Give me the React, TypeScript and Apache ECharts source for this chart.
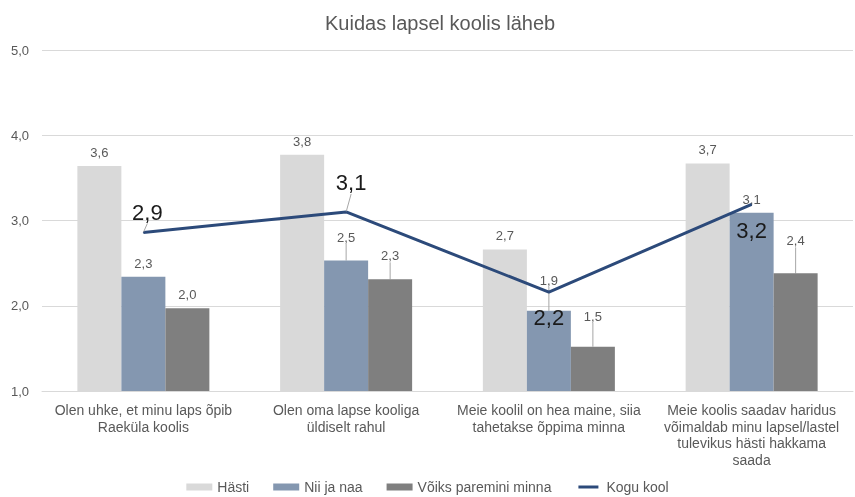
import React, { useEffect, useRef } from "react";
import * as echarts from "echarts";

const titleText = "Kuidas lapsel koolis läheb";
const categories = [
  "Olen uhke, et minu laps õpib\nRaeküla koolis",
  "Olen oma lapse kooliga\nüldiselt rahul",
  "Meie koolil on hea maine, siia\ntahetakse õppima minna",
  "Meie koolis saadav haridus\nvõimaldab minu lapsel/lastel\ntulevikus hästi hakkama\nsaada",
];
const seriesNames = ["Hästi", "Nii ja naa", "Võiks paremini minna", "Kogu kool"];
const hasti = [3.64, 3.77, 2.66, 3.67];
const niiJaNaa = [2.34, 2.53, 1.94, 3.09];
const voiks = [1.97, 2.31, 1.52, 2.38];
const koguKool = [2.86, 3.1, 2.16, 3.19];
const yTicks = [1, 2, 3, 4, 5];

// label nudges (styling only)
const barNudge = [
  [0, 0, 0, 0],
  [0, -10, -17, 0],
  [0, -10, -17, -19],
];
const lineNudge = [
  [4, -20],
  [5, -29],
  [0, 25],
  [0, 26],
];
const lineGuide = [true, true, false, false];

const FONT = "'Liberation Sans', Arial, sans-serif";
const GREY_TEXT = "#595959";
const colors = ["#D9D9D9", "#8497B0", "#7F7F7F", "#2C4A7A"];
const lineLegendIcon = "path://M0,0M26,7M3,2H23V5H3Z";

const fmt = (v: number) => v.toFixed(1).replace(".", ",");

export default function App() {
  const ref = useRef<HTMLDivElement>(null);
  useEffect(() => {
    if (!ref.current) return;
    const chart = echarts.init(ref.current, null, { renderer: "svg" });
    const barData = [hasti, niiJaNaa, voiks];
    const barSeries = barData.map((arr, si) => ({
      name: seriesNames[si],
      type: "bar",
      barWidth: 44,
      barGap: "0%",
      itemStyle: { color: colors[si] },
      data: arr.map((v, i) => ({
        value: v,
        labelLine: { show: barNudge[si][i] !== 0 },
      })),
      label: {
        show: true,
        position: "top",
        distance: 7,
        color: GREY_TEXT,
        fontSize: 13,
        fontFamily: FONT,
        formatter: (p: any) => fmt(p.value),
      },
      labelLine: { show: false, lineStyle: { color: "#A6A6A6", width: 1 } },
      labelLayout: (p: any) => ({ dy: barNudge[si][p.dataIndex] }),
      z: 2,
    }));
    const lineSeries = {
      name: seriesNames[3],
      type: "line",
      data: koguKool.map((v, i) => ({
        value: v,
        labelLine: { show: lineGuide[i] },
      })),
      symbol: "circle",
      symbolSize: 1,
      showSymbol: true,
      itemStyle: { color: colors[3] },
      lineStyle: { color: colors[3], width: 3 },
      label: {
        show: true,
        position: "inside",
        color: "#1A1A1A",
        fontSize: 22,
        fontFamily: FONT,
        formatter: (p: any) => fmt(p.value),
      },
      labelLine: { show: false, lineStyle: { color: "#A6A6A6", width: 1 } },
      labelLayout: (p: any) => ({
        dx: lineNudge[p.dataIndex][0],
        dy: lineNudge[p.dataIndex][1],
      }),
      z: 5,
    };
    chart.setOption({
      animation: false,
      textStyle: { fontFamily: FONT },
      title: {
        text: titleText,
        left: 320,
        top: 8,
        textStyle: {
          color: GREY_TEXT,
          fontSize: 20,
          fontWeight: "normal",
          fontFamily: FONT,
        },
      },
      legend: {
        data: [
          { name: seriesNames[0], icon: "rect" },
          { name: seriesNames[1], icon: "rect" },
          { name: seriesNames[2], icon: "rect" },
          { name: seriesNames[3], icon: lineLegendIcon },
        ],
        left: "center",
        top: 478,
        padding: 2,
        itemWidth: 26,
        itemHeight: 7,
        itemGap: 24,
        textStyle: { color: GREY_TEXT, fontSize: 14, fontFamily: FONT },
      },
      grid: { left: 42, right: 2, top: 50, bottom: 106 },
      xAxis: {
        type: "category",
        data: categories,
        axisLine: { lineStyle: { color: "#D9D9D9" } },
        axisTick: { show: false },
        axisLabel: {
          color: GREY_TEXT,
          fontSize: 14,
          lineHeight: 16.5,
          margin: 11,
          interval: 0,
          fontFamily: FONT,
        },
      },
      yAxis: {
        type: "value",
        min: yTicks[0],
        max: yTicks[yTicks.length - 1],
        interval: 1,
        axisLine: { show: false },
        axisTick: { show: false },
        splitLine: { lineStyle: { color: "#D9D9D9" } },
        axisLabel: {
          color: GREY_TEXT,
          fontSize: 13,
          margin: 13,
          fontFamily: FONT,
          formatter: (v: number) => fmt(v),
        },
      },
      series: [...barSeries, lineSeries],
    } as any);
    return () => chart.dispose();
  }, []);
  return (
    <div
      ref={ref}
      style={{ position: "fixed", left: 0, top: 0, width: 855, height: 497 }}
    />
  );
}
